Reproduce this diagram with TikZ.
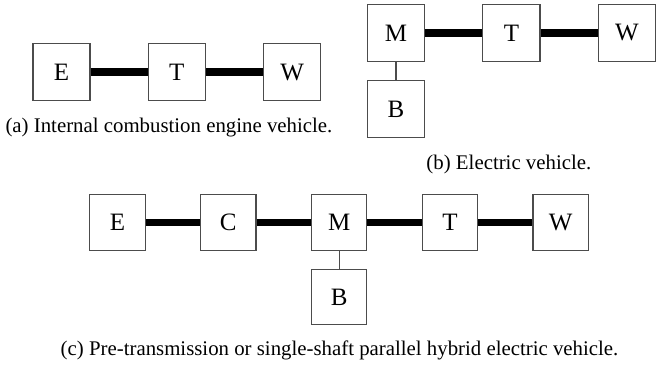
\documentclass[tikz,border=0pt]{standalone}
\usepackage{fontspec}
\setmainfont{Liberation Serif}
\usetikzlibrary{positioning}

\begin{document}
\begin{tikzpicture}[
  unit/.style={draw=black!70, line width=0.6pt, minimum size=27.4pt,
               inner sep=0pt, font=\fontsize{12}{14}\selectfont},
  unitc/.style={unit, minimum size=26.6pt},
  shaft/.style={line width=3.8pt, black},
  wire/.style={line width=0.5pt, black!70},
  caption/.style={font=\fontsize{10}{12}\selectfont, inner sep=0pt},
]
  \useasboundingbox (0pt,0pt) rectangle (317.8pt,-176.2pt);

  % (a) conventional
  \node[unit] (Ea) at (29.5pt,-34.6pt) {E};
  \node[unit, right=27.4pt of Ea] (Ta) {T};
  \node[unit, right=27.4pt of Ta] (Wa) {W};
  \draw[shaft] (Ea) -- (Ta);
  \draw[shaft] (Ta) -- (Wa);
  \node[caption] (capa) at (81.1pt,-61pt) {(a) Internal combustion engine vehicle.};

  % (b) electric
  \node[unit] (Mb) at (190.1pt,-15.8pt) {M};
  \node[unit, right=27.4pt of Mb] (Tb) {T};
  \node[unit, right=27.4pt of Tb] (Wb) {W};
  \node[unit, below=8.6pt of Mb] (Bb) {B};
  \draw[shaft] (Mb) -- (Tb);
  \draw[shaft] (Tb) -- (Wb);
  \draw[wire] (Mb) -- (Bb);
  \node[caption] (capb) at (244.3pt,-79pt) {(b) Electric vehicle.};

  % (c) hybrid
  \node[unitc] (Ec) at (56.4pt,-106.8pt) {E};
  \node[unitc, right=26pt of Ec] (Cc) {C};
  \node[unitc, right=26pt of Cc] (Mc) {M};
  \node[unitc, right=26pt of Mc] (Tc) {T};
  \node[unitc, right=26pt of Tc] (Wc) {W};
  \node[unitc, below=8.6pt of Mc] (Bc) {B};
  \draw[shaft] (Ec) -- (Cc);
  \draw[shaft] (Cc) -- (Mc);
  \draw[shaft] (Mc) -- (Tc);
  \draw[shaft] (Tc) -- (Wc);
  \draw[wire] (Mc) -- (Bc);
  \node[caption] (capc) at (163pt,-168pt)
    {(c) Pre-transmission or single-shaft parallel hybrid electric vehicle.};
\end{tikzpicture}
\end{document}
